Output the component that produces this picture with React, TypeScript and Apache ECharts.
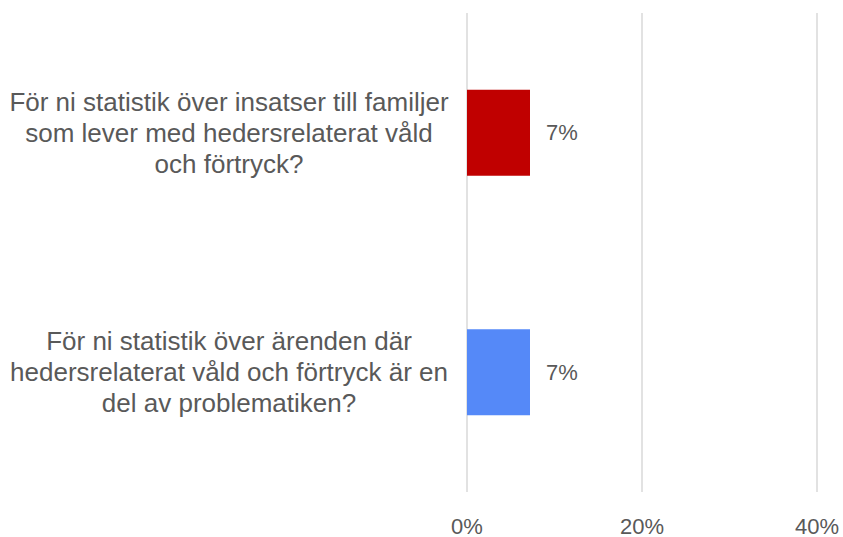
import React, { useEffect, useRef } from "react";
import * as echarts from "echarts";

const categories: string[] = [
  "För ni statistik över insatser till familjer\nsom lever med hedersrelaterat våld\noch förtryck?",
  "För ni statistik över ärenden där\nhedersrelaterat våld och förtryck är en\ndel av problematiken?",
];
const values: number[] = [7.2, 7.2];
const valueLabels: string[] = ["7%", "7%"];
const xTicks: number[] = [0, 20, 40];

const BAR_COLORS = ["#C00000", "#5589F8"];
const TEXT = "#595959";
const FONT = "'Liberation Sans', Arial, sans-serif";

export default function App() {
  const ref = useRef<HTMLDivElement>(null);
  useEffect(() => {
    document.body.style.margin = "0";
    if (!ref.current) return;
    const chart = echarts.init(ref.current, null, { renderer: "svg" });
    chart.setOption({
      animation: false,
      backgroundColor: "#ffffff",
      grid: { left: 467, right: 26, top: 13, bottom: 45, containLabel: false },
      xAxis: {
        type: "value",
        min: xTicks[0],
        max: xTicks[xTicks.length - 1],
        interval: xTicks[1] - xTicks[0],
        axisLine: { show: false },
        axisTick: { show: false },
        splitLine: { show: true, lineStyle: { color: "#D9D9D9", width: 1.5 } },
        axisLabel: {
          formatter: "{value}%",
          color: TEXT,
          fontFamily: FONT,
          fontSize: 22,
          margin: 23,
        },
      },
      yAxis: {
        type: "category",
        data: categories,
        inverse: true,
        axisLine: { show: false },
        axisTick: { show: false },
        splitLine: { show: false },
        axisLabel: {
          color: TEXT,
          fontFamily: FONT,
          fontSize: 26,
          lineHeight: 31,
          align: "center",
          margin: 238,
        },
      },
      series: [
        {
          type: "bar",
          barWidth: 86,
          data: values.map((v, i) => ({
            value: v,
            itemStyle: { color: BAR_COLORS[i] },
          })),
          label: {
            show: true,
            position: "right",
            distance: 16,
            color: TEXT,
            fontFamily: FONT,
            fontSize: 22,
            formatter: (p: any) => valueLabels[p.dataIndex],
          },
        },
      ],
    });
    return () => chart.dispose();
  }, []);
  return <div ref={ref} style={{ width: 843, height: 537 }} />;
}
